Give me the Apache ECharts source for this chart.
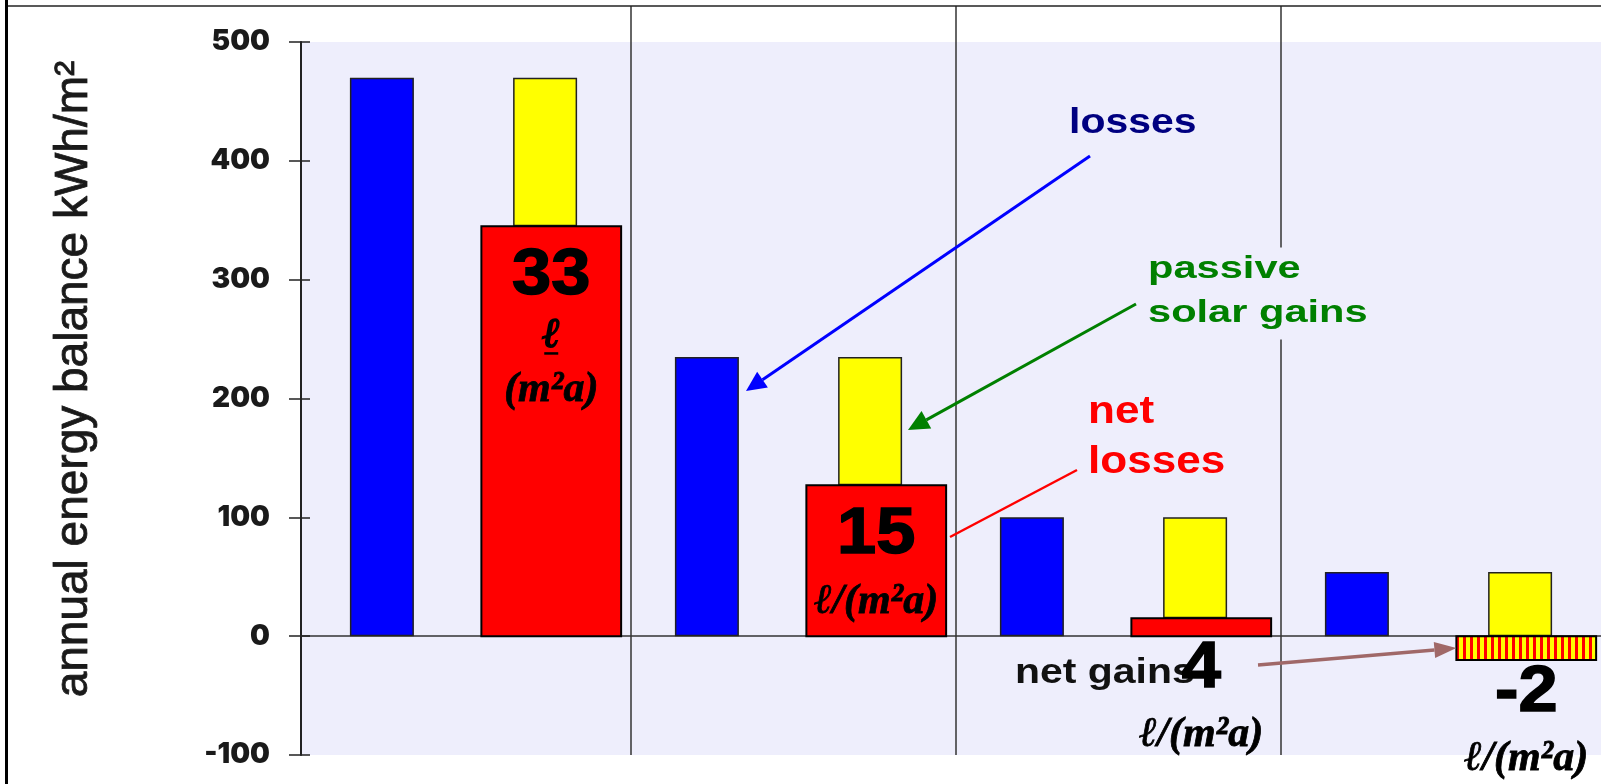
<!DOCTYPE html>
<html>
<head>
<meta charset="utf-8">
<script src="https://cdn.jsdelivr.net/npm/echarts@6/dist/echarts.min.js"></script>
<style>
  html, body { margin: 0; padding: 0; background: #ffffff; }
  #chart { width: 1601px; height: 784px; }
</style>
</head>
<body>
<div id="chart"></div>
<script>
// Annual heating energy balance per m² for four building standards.
const categories = ['Existing building', 'Regulation standard', 'Low-energy house', 'Passive house'];
const losses = [470, 235, 100, 54];        // kWh/m² transmission + ventilation losses
const netLosses = [345, 127, 15, -20];     // kWh/m² remaining after passive solar gains
const netLabels = ['33', '15', '4', '-2']; // heating oil equivalent
const unitLabel = 'ℓ/(m²a)';
const yTitle = 'annual energy balance kWh/m²';
const yMin = -100, yMax = 500, yStep = 100;

// Yellow gains column sits between the net value (floored at zero) and the losses.
const gainBase = netLosses.map(v => Math.max(v, 0));
const gainSpan = losses.map((v, i) => v - gainBase[i]);

const PLOT_BG = '#EEEEFC';
const NET_OFFSET = 0.27;   // net column centre, as a share of the category band
const NET_WIDTH = 0.43;    // net column width, as a share of the category band

// Red / yellow vertical stripes for a net gain.
const stripe = (() => {
  const c = document.createElement('canvas');
  c.width = 7; c.height = 8;
  const g = c.getContext('2d');
  g.fillStyle = '#FFFF00'; g.fillRect(0, 0, 7, 8);
  g.fillStyle = '#FF0000'; g.fillRect(0, 0, 3, 8);
  return { image: c, repeat: 'repeat' };
})();

const NUM_FONT = 'bold 64px "Liberation Sans"';
const UNIT_FONT = 'italic bold 42px "Liberation Serif"';

function bigNumber(x, y, text) {
  return {
    type: 'text', x: x, y: y, scaleX: 1.1,
    style: { text: text, font: NUM_FONT, fill: '#000', stroke: '#000', lineWidth: 1.5,
             align: 'center', verticalAlign: 'middle' }
  };
}
function unitText(x, y, text, heavy) {
  return {
    type: 'text', x: x, y: y,
    style: { text: text, font: UNIT_FONT, fill: '#000', stroke: '#000', lineWidth: heavy ? 1.6 : 0.8,
             align: 'center', verticalAlign: 'middle' }
  };
}

function renderNet(params, api) {
  const i = params.dataIndex;
  const v = api.value(1);
  const zero = api.coord([api.value(0), 0]);
  const end = api.coord([api.value(0), v]);
  const band = api.size([1, 0])[0];
  const w = band * NET_WIDTH;
  const cx = zero[0] + band * NET_OFFSET;
  const y0 = Math.min(zero[1], end[1]);
  const y1 = Math.max(zero[1], end[1]);
  const h = zero[1] - end[1];
  const children = [{
    type: 'rect',
    shape: { x: cx - w / 2, y: y0, width: w, height: y1 - y0 },
    style: { fill: v < 0 ? stripe : '#FF0000', stroke: '#000', lineWidth: 2 }
  }];
  if (h > 120) {
    children.push(bigNumber(cx, end[1] + 50, netLabels[i]));
    if (h > 300) {
      // tall column: unit written as a stacked fraction
      children.push(unitText(cx, end[1] + 110, 'ℓ', true));
      children.push({ type: 'rect', shape: { x: cx - 7, y: end[1] + 126, width: 14, height: 2.5 },
                      style: { fill: '#000' } });
      children.push(unitText(cx, end[1] + 164, '(m²a)'));
    } else {
      children.push(unitText(cx, end[1] + 117, unitLabel));
    }
  } else {
    children.push(bigNumber(cx, y1 + 33, netLabels[i]));
    children.push(unitText(cx, y1 + 99, unitLabel));
  }
  return { type: 'group', children: children };
}

const chart = echarts.init(document.getElementById('chart'), null, { renderer: 'canvas' });

const option = {
  animation: false,
  backgroundColor: '#ffffff',
  grid: { left: 301, top: 42, width: 1306, height: 713, show: true,
          backgroundColor: PLOT_BG, borderWidth: 0 },
  xAxis: {
    type: 'category', data: categories,
    axisLine: { onZero: true, lineStyle: { color: '#333', width: 1.5 } },
    axisTick: { show: false }, axisLabel: { show: false }, splitLine: { show: false }
  },
  yAxis: [{
    type: 'value', min: yMin, max: yMax, interval: yStep,
    axisLine: { show: true, lineStyle: { color: '#222', width: 2 } },
    axisTick: { show: true, inside: false, length: 12, lineStyle: { color: '#222', width: 1.5 } },
    axisLabel: { margin: 31, fontFamily: 'Inter', fontWeight: 900, fontSize: 28, color: '#1a1a1a' },
    splitLine: { show: false }
  }, {
    type: 'value', min: yMin, max: yMax, interval: yStep, position: 'left',
    axisLine: { show: false },
    axisTick: { show: true, inside: true, length: 9, lineStyle: { color: '#222', width: 1.5 } },
    axisLabel: { show: false }, splitLine: { show: false }
  }],
  series: [
    { name: 'losses', type: 'bar', data: losses, barWidth: 64, barGap: '155%', z: 2,
      itemStyle: { color: '#0000FF', borderColor: '#222', borderWidth: 1.5 } },
    { name: 'gain base', type: 'bar', stack: 'gain', data: gainBase, barWidth: 64, barGap: '155%',
      silent: true, itemStyle: { color: 'rgba(0,0,0,0)' } },
    { name: 'passive solar gains', type: 'bar', stack: 'gain', data: gainSpan, barWidth: 64, barGap: '155%', z: 2,
      itemStyle: { color: '#FFFF00', borderColor: '#222', borderWidth: 1.5 } },
    { name: 'net losses', type: 'custom', z: 5,
      data: netLosses.map((v, i) => [i, v]),
      encode: { x: 0, y: 1 },
      renderItem: renderNet }
  ]
};
chart.setOption(option);

// Annotations: frame, axis title, group separators, callout texts and arrows.
function arrow(x1, y1, x2, y2, color, width, head, halfW) {
  const a = Math.atan2(y2 - y1, x2 - x1);
  const bx = head ? x2 - head * Math.cos(a) : x2;
  const by = head ? y2 - head * Math.sin(a) : y2;
  const els = [{ type: 'line', z: 8, shape: { x1: x1, y1: y1, x2: bx, y2: by },
                 style: { stroke: color, lineWidth: width } }];
  if (head) {
    els.push({ type: 'polygon', z: 8,
      shape: { points: [[x2, y2],
                        [bx - halfW * Math.sin(a), by + halfW * Math.cos(a)],
                        [bx + halfW * Math.sin(a), by - halfW * Math.cos(a)]] },
      style: { fill: color } });
  }
  return els;
}

const plotBottom = chart.convertToPixel({ yAxisIndex: 0 }, yMin);
const centers = categories.map((c, i) => chart.convertToPixel({ xAxisIndex: 0 }, i));
const band = centers[1] - centers[0];
const separators = [];
for (let i = 0; i + 1 < centers.length; i++) {
  const x = (centers[i] + centers[i + 1]) / 2 + 5;
  separators.push({ type: 'line', z: 1, shape: { x1: x, y1: 6, x2: x, y2: plotBottom },
                    style: { stroke: '#333', lineWidth: 1.5 } });
}

// the net-gain column's left edge, where the "net gains" arrow ends
const last = netLosses.length - 1;
const gainEdgeX = centers[last] + band * (NET_OFFSET - NET_WIDTH / 2);
const gainMidY = chart.convertToPixel({ yAxisIndex: 0 }, netLosses[last] / 2);

const graphics = [].concat(
  separators,
  [
    // frame
    { type: 'line', z: 10, shape: { x1: 6, y1: 6, x2: 1601, y2: 6 }, style: { stroke: '#222', lineWidth: 1.5 } },
    { type: 'line', z: 10, shape: { x1: 6.5, y1: 0, x2: 6.5, y2: 784 }, style: { stroke: '#000', lineWidth: 3 } },
    // y axis title
    { type: 'text', z: 6, x: 74, y: 379, rotation: Math.PI / 2,
      style: { text: yTitle, font: '46px "Liberation Sans"', fill: '#1a1a1a', stroke: '#1a1a1a', lineWidth: 0.8,
               align: 'center', verticalAlign: 'middle' } },
    // callouts
    { type: 'text', z: 6, x: 1069, y: 123, scaleX: 1.17,
      style: { text: 'losses', font: 'bold 35px "Liberation Sans"', fill: '#000080',
               align: 'left', verticalAlign: 'middle' } },
    { type: 'text', z: 6, x: 1148, y: 247.5, scaleX: 1.3,
      style: { text: 'passive\nsolar gains', font: 'bold 32px "Liberation Sans"', lineHeight: 44,
               fill: '#008000', align: 'left', verticalAlign: 'top',
               backgroundColor: PLOT_BG, padding: [0, 0, 4, 0] } },
    { type: 'text', z: 6, x: 1088, y: 388, scaleX: 1.16,
      style: { text: 'net\nlosses', font: 'bold 38px "Liberation Sans"', lineHeight: 50,
               fill: '#FF0000', align: 'left', verticalAlign: 'top' } },
    { type: 'text', z: 1, x: 1015, y: 673, scaleX: 1.17,
      style: { text: 'net gains', font: 'bold 35px "Liberation Sans"', fill: '#111',
               align: 'left', verticalAlign: 'middle' } }
  ],
  arrow(1090, 156, 746, 391, '#0000FF', 3, 20, 9.5),
  arrow(1136, 304, 908, 430, '#008000', 3, 21, 10),
  arrow(1077, 470, 950, 537, '#FF0000', 2.5, 0, 0),
  arrow(1258, 665, gainEdgeX, gainMidY, '#A06868', 3.5, 22, 8)
);

chart.setOption({ graphic: graphics });
</script>
</body>
</html>
